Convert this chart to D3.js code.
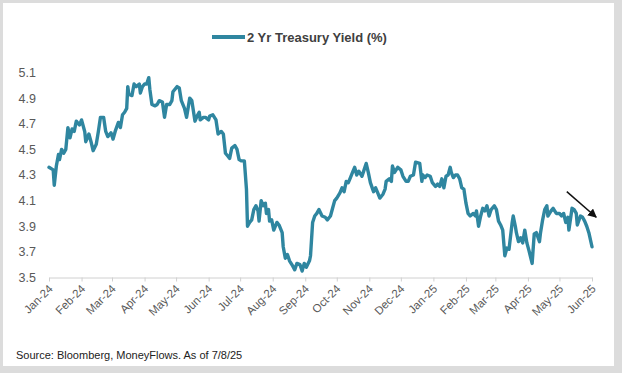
<!DOCTYPE html>
<html>
<head>
<meta charset="utf-8">
<script src="https://cdn.jsdelivr.net/npm/d3@7/dist/d3.min.js"></script>
<style>
  html, body { margin: 0; padding: 0; background: #dcdcdc; }
  svg { display: block; font-family: "Liberation Sans", Arial, sans-serif; }
</style>
</head>
<body>
<svg width="622" height="373"></svg>
<script>
// 2 Yr Treasury yield (%)
const dates = [
  "2024-01-01","2024-01-05","2024-01-06","2024-01-08","2024-01-10","2024-01-11","2024-01-13","2024-01-15","2024-01-17","2024-01-19",
  "2024-01-21","2024-01-23","2024-01-25","2024-01-27","2024-01-30","2024-02-01","2024-02-04","2024-02-05","2024-02-08","2024-02-10",
  "2024-02-12","2024-02-15","2024-02-17","2024-02-19","2024-02-22","2024-02-24","2024-02-26","2024-02-29","2024-03-02","2024-03-04",
  "2024-03-07","2024-03-09","2024-03-11","2024-03-13","2024-03-15","2024-03-16","2024-03-17","2024-03-20","2024-03-22","2024-03-24",
  "2024-03-27","2024-03-28","2024-03-30","2024-04-01","2024-04-03","2024-04-05","2024-04-06","2024-04-08","2024-04-11","2024-04-13",
  "2024-04-15","2024-04-18","2024-04-20","2024-04-22","2024-04-25","2024-04-27","2024-04-28","2024-05-02","2024-05-04","2024-05-06",
  "2024-05-09","2024-05-11","2024-05-14","2024-05-16","2024-05-19","2024-05-21","2024-05-23","2024-05-24","2024-05-27","2024-05-29",
  "2024-06-01","2024-06-02","2024-06-05","2024-06-08","2024-06-10","2024-06-13","2024-06-15","2024-06-17","2024-06-19","2024-06-21",
  "2024-06-23","2024-06-26","2024-06-28","2024-06-30","2024-07-02","2024-07-05","2024-07-07","2024-07-08","2024-07-10","2024-07-12",
  "2024-07-14","2024-07-16","2024-07-18","2024-07-19","2024-07-21","2024-07-23","2024-07-25","2024-07-26","2024-07-28","2024-07-29",
  "2024-07-31","2024-08-02","2024-08-05","2024-08-07","2024-08-10","2024-08-11","2024-08-13","2024-08-15","2024-08-17","2024-08-20",
  "2024-08-22","2024-08-24","2024-08-27","2024-08-29","2024-08-31","2024-09-02","2024-09-05","2024-09-06","2024-09-08","2024-09-10",
  "2024-09-12","2024-09-14","2024-09-17","2024-09-20","2024-09-22","2024-09-25","2024-09-27","2024-09-29","2024-10-01","2024-10-04",
  "2024-10-06","2024-10-08","2024-10-10","2024-10-12","2024-10-14","2024-10-16","2024-10-18","2024-10-20","2024-10-22","2024-10-25",
  "2024-10-27","2024-10-29","2024-10-31","2024-11-02","2024-11-05","2024-11-07","2024-11-09","2024-11-11","2024-11-14","2024-11-16",
  "2024-11-17","2024-11-20","2024-11-22","2024-11-23","2024-11-25","2024-11-28","2024-12-01","2024-12-03","2024-12-06","2024-12-08",
  "2024-12-10","2024-12-13","2024-12-15","2024-12-19","2024-12-21","2024-12-22","2024-12-24","2024-12-26","2024-12-29","2024-12-31",
  "2025-01-03","2025-01-05","2025-01-07","2025-01-09","2025-01-11","2025-01-13","2025-01-15","2025-01-17","2025-01-18","2025-01-20",
  "2025-01-22","2025-01-24","2025-01-26","2025-01-28","2025-01-30","2025-02-01","2025-02-03","2025-02-05","2025-02-08","2025-02-10",
  "2025-02-11","2025-02-13","2025-02-15","2025-02-17","2025-02-19","2025-02-21","2025-02-23","2025-02-25","2025-02-28","2025-03-02",
  "2025-03-04","2025-03-06","2025-03-08","2025-03-10","2025-03-12","2025-03-14","2025-03-17","2025-03-18","2025-03-20","2025-03-21",
  "2025-03-23","2025-03-25","2025-03-27","2025-03-29","2025-03-31","2025-04-02","2025-04-05","2025-04-07","2025-04-09","2025-04-12",
  "2025-04-13","2025-04-15","2025-04-17","2025-04-19","2025-04-20","2025-04-23","2025-04-25","2025-04-28","2025-05-01","2025-05-03",
  "2025-05-05","2025-05-07","2025-05-09","2025-05-10","2025-05-13","2025-05-15","2025-05-17","2025-05-18","2025-05-21","2025-05-23",
  "2025-05-25","2025-05-27","2025-05-29","2025-06-01"
];
const yields = [
  4.36,4.34,4.22,4.37,4.46,4.42,4.50,4.47,4.50,4.67,
  4.59,4.66,4.64,4.72,4.69,4.73,4.64,4.56,4.62,4.56,
  4.49,4.54,4.64,4.75,4.75,4.64,4.60,4.63,4.58,4.64,
  4.71,4.67,4.77,4.79,4.82,4.99,4.93,4.92,5.01,4.99,
  5.01,4.94,4.99,5.01,5.01,5.06,4.97,4.85,4.84,4.85,
  4.88,4.87,4.75,4.85,4.85,4.88,4.95,4.99,4.98,4.88,
  4.82,4.75,4.90,4.88,4.72,4.76,4.79,4.73,4.75,4.75,
  4.73,4.76,4.77,4.73,4.62,4.64,4.62,4.47,4.45,4.43,
  4.51,4.53,4.50,4.42,4.41,4.41,4.19,3.90,3.93,3.95,
  4.03,4.06,4.02,3.94,4.10,4.06,4.08,4.00,4.03,3.94,
  3.95,3.87,3.93,3.91,3.85,3.74,3.65,3.68,3.63,3.59,
  3.56,3.61,3.60,3.55,3.61,3.58,3.63,3.67,3.93,3.98,
  4.00,4.03,3.98,3.97,3.95,3.98,4.04,4.10,4.12,4.16,
  4.20,4.17,4.25,4.24,4.28,4.32,4.36,4.30,4.33,4.29,
  4.34,4.39,4.32,4.24,4.17,4.20,4.16,4.12,4.15,4.19,
  4.25,4.27,4.25,4.37,4.32,4.36,4.34,4.29,4.25,4.25,
  4.29,4.30,4.40,4.39,4.25,4.30,4.28,4.30,4.29,4.24,
  4.21,4.23,4.21,4.27,4.20,4.29,4.30,4.36,4.32,4.28,
  4.30,4.30,4.27,4.20,4.19,4.08,4.00,3.98,4.00,3.98,
  4.02,3.90,3.98,4.04,4.02,4.06,3.98,4.03,4.06,4.03,
  3.94,3.91,3.87,3.67,3.73,3.72,3.93,3.98,3.90,3.85,
  3.78,3.81,3.77,3.87,3.77,3.71,3.61,3.84,3.85,3.78,
  3.85,3.95,4.03,4.06,3.98,4.02,4.04,4.00,4.00,3.98,
  4.00,3.93,3.97,3.87,4.04,4.03,4.00,3.91,3.98,3.97,
  3.94,3.90,3.85,3.74
];
const yTicks = [3.5, 3.7, 3.9, 4.1, 4.3, 4.5, 4.7, 4.9, 5.1];
const xStart = "2024-01-01", xEnd = "2025-06-01";
// arrow annotation: [date, yield] from -> to
const arrowFrom = ["2025-05-08", 4.17];
const arrowTo = ["2025-06-05", 3.97];

const parse = d3.timeParse("%Y-%m-%d");
const data = dates.map((d, i) => ({ date: parse(d), v: yields[i] }));

const svg = d3.select("svg");
const lineColor = "#2f86a0";
const textColor = "#595959";

// white panel over grey frame
svg.append("rect").attr("x", 3).attr("y", 3).attr("width", 611).attr("height", 363).attr("fill", "#fff");

const x = d3.scaleTime().domain([parse(xStart), parse(xEnd)]).range([49, 592]);
const y = d3.scaleLinear().domain([3.5, 5.1]).range([277.5, 72.5]);

// y labels (no axis line)
svg.append("g").selectAll("text")
  .data(yTicks).enter().append("text")
  .attr("x", 36).attr("y", d => y(d)).attr("dy", "0.35em")
  .attr("text-anchor", "end")
  .attr("font-size", 12.5).attr("fill", textColor)
  .text(d3.format(".1f"));

// x axis
const xAxis = d3.axisBottom(x)
  .ticks(d3.timeMonth.every(1))
  .tickFormat(d3.timeFormat("%b-%y"))
  .tickSizeInner(4).tickSizeOuter(0);

const gx = svg.append("g").attr("transform", `translate(0,${y(3.5)})`).call(xAxis);
gx.select(".domain").attr("stroke", "#d0d0d0");
gx.selectAll(".tick line").attr("stroke", "#d0d0d0");
gx.selectAll(".tick text")
  .attr("font-family", "Liberation Sans, Arial, sans-serif")
  .attr("font-size", 11.5).attr("fill", textColor)
  .attr("text-anchor", "end")
  .attr("dy", null).attr("y", 0)
  .attr("transform", "translate(4,12) rotate(-45)");

// series line
const line = d3.line().x(d => x(d.date)).y(d => y(d.v));
svg.append("path").datum(data)
  .attr("fill", "none").attr("stroke", lineColor)
  .attr("stroke-width", 3.4).attr("stroke-linejoin", "round").attr("stroke-linecap", "round")
  .attr("d", line);

// arrow
svg.append("defs").append("marker")
  .attr("id", "ah").attr("viewBox", "0 0 10 10").attr("refX", 9).attr("refY", 5)
  .attr("markerWidth", 6).attr("markerHeight", 6).attr("orient", "auto")
  .append("path").attr("d", "M0,0 L10,5 L0,10 z").attr("fill", "#111");
svg.append("line")
  .attr("x1", x(parse(arrowFrom[0]))).attr("y1", y(arrowFrom[1]))
  .attr("x2", x(parse(arrowTo[0]))).attr("y2", y(arrowTo[1]))
  .attr("stroke", "#111").attr("stroke-width", 1.5)
  .attr("marker-end", "url(#ah)");

// legend
const lg = svg.append("g").attr("transform", "translate(212,37)");
lg.append("line").attr("x1", 0).attr("x2", 33).attr("y1", 0).attr("y2", 0)
  .attr("stroke", lineColor).attr("stroke-width", 4);
lg.append("text").attr("x", 35).attr("y", 0).attr("dy", "0.35em")
  .attr("font-size", 13).attr("font-weight", "bold").attr("fill", "#404040")
  .text("2 Yr Treasury Yield (%)");

// source note
svg.append("text").attr("x", 16).attr("y", 359)
  .attr("font-size", 11).attr("fill", "#222")
  .text("Source: Bloomberg, MoneyFlows. As of 7/8/25");
</script>
</body>
</html>
